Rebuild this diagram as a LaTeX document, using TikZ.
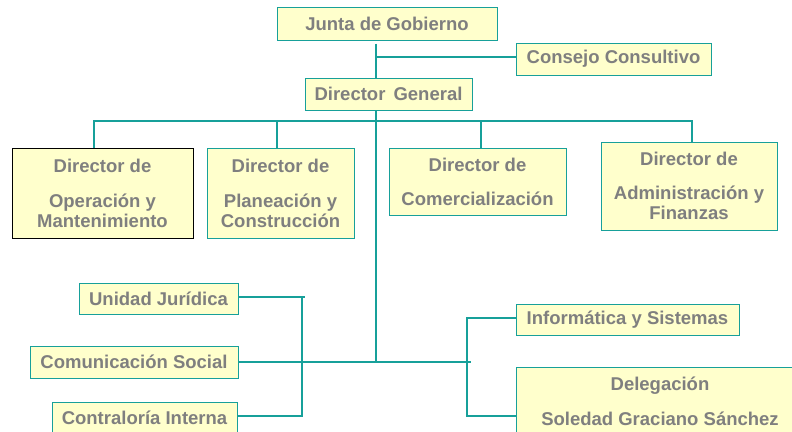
\documentclass[tikz,border=0pt]{standalone}
\usepackage{fontspec}
\setmainfont{Liberation Sans}
\usetikzlibrary{backgrounds}
\definecolor{tealline}{HTML}{17A09A}
\definecolor{boxfill}{HTML}{FFFFCC}
\definecolor{txtgray}{HTML}{7F7F7F}
\begin{document}
\begin{tikzpicture}[x=1pt,y=-1pt,
  box/.style={draw=tealline, line width=1pt, fill=boxfill, text=txtgray,
    font=\fontsize{18.5}{20}\selectfont\bfseries, inner sep=0pt, align=center},
  conn/.style={draw=tealline, line width=1.3pt}]
\useasboundingbox (0,0) rectangle (792,431);
\clip (0,0) rectangle (792,431);
% top
\node[box, minimum width=220pt, minimum height=33pt] (jg) at (387,23.5) {Junta de Gobierno};
\node[box, minimum width=195pt, minimum height=32pt] (cc) at (613.5,59) {Consejo Consultivo};
\node[box, minimum width=167pt, minimum height=32pt] (dg) at (388.5,94) {Director\hspace{3pt} General};
% directors
\node[box, draw=black, minimum width=181pt, minimum height=90pt] (op) at (102.5,193) {Director de\\[15pt]Operación y\\Mantenimiento};
\node[box, minimum width=147pt, minimum height=90pt] (pc) at (280.5,193) {Director de\\[15pt]Planeación y\\Construcción};
\node[box, minimum width=177pt, minimum height=67pt] (cm) at (477.5,181.5) {Director de\\[14pt]Comercialización};
\node[box, minimum width=176pt, minimum height=88pt] (ad) at (689,186) {Director de\\[14pt]Administración y\\Finanzas};
% staff units
\node[box, minimum width=159pt, minimum height=31pt] (uj) at (158.5,298.5) {Unidad Jurídica};
\node[box, minimum width=208pt, minimum height=32pt] (cs) at (134,362) {Comunicación Social};
\node[box, minimum width=185pt, minimum height=32pt] (ci) at (144.5,418) {Contraloría Interna};
\node[box, minimum width=223pt, minimum height=31pt] (inf) at (627.5,319.5) {Informática y Sistemas};
\node[box, minimum width=288pt, minimum height=69pt] (del) at (660,401.5) {Delegación\\[15pt]Soledad Graciano Sánchez};
% helper coordinates
\coordinate (hub) at (376,362);
\coordinate (bus) at (0,121);
\coordinate (d1) at (94,0);
\coordinate (d2) at (277,0);
\coordinate (d3) at (481,0);
\coordinate (d4) at (692,0);
\coordinate (lt) at (302,297);
\coordinate (lb) at (302,416);
\coordinate (rt) at (467,318);
\coordinate (rb) at (467,416);
\begin{scope}[on background layer]
  \draw[conn] ([yshift=-3pt]jg.south -| hub) -- (hub);
  \draw[conn] ([yshift=2pt]cc.west) -- ([yshift=2pt]cc.west -| hub);
  \draw[conn] (d1 |- op.north) -- (d1 |- bus) -- (d4 |- bus) -- (d4 |- ad.north);
  \draw[conn] (d2 |- bus) -- (d2 |- pc.north);
  \draw[conn] (d3 |- bus) -- (d3 |- cm.north);
  \draw[conn] (uj.east |- lt) -- ([xshift=3pt]lt);
  \draw[conn] (lt) -- (lb) -- (ci.east |- lb);
  \draw[conn] (cs.east) -- ([xshift=4pt]rt |- cs.east);
  \draw[conn] (inf.west |- rt) -- (rt) -- (rb) -- (del.west |- rb);
\end{scope}
\end{tikzpicture}
\end{document}
